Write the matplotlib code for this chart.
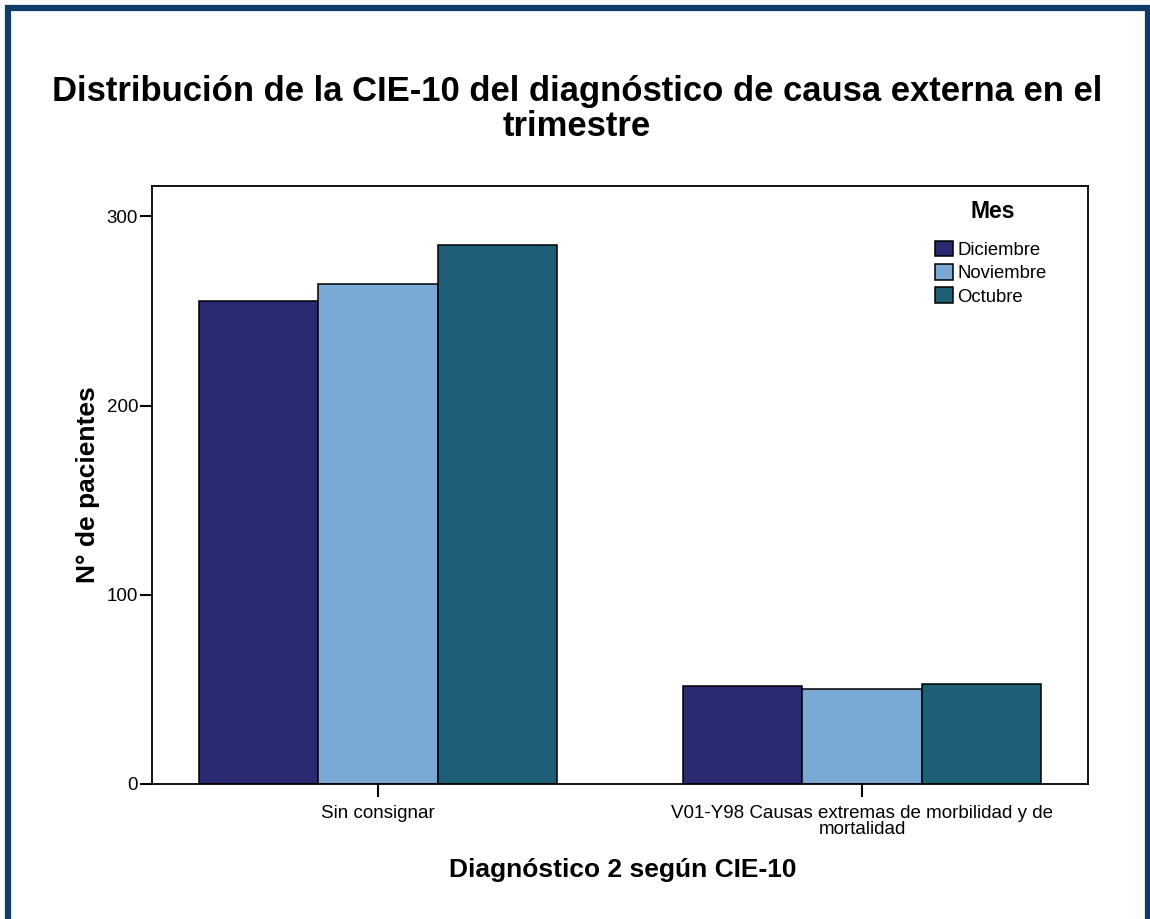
import numpy as np
import matplotlib
matplotlib.use("Agg")
import matplotlib.pyplot as plt
from matplotlib.patches import Rectangle

plt.rcParams['font.family'] = ['Liberation Sans', 'DejaVu Sans']

categorias = ["Sin consignar", "V01-Y98 Causas extremas de morbilidad y de\nmortalidad"]
meses = ["Diciembre", "Noviembre", "Octubre"]
diciembre = [255, 52]
noviembre = [264, 50]
octubre = [285, 53]
colores = ["#2a2a72", "#7ba9d6", "#1d5f77"]

W, H = 1150, 919
fig = plt.figure(figsize=(W/100, H/100), dpi=100)
ax = fig.add_axes([152/W, 1-784/H, (1088-152)/W, (784-186)/H])

x = np.arange(len(categorias))
ancho = 0.247
for k, (vals, lab, col) in enumerate(zip([diciembre, noviembre, octubre], meses, colores)):
    ax.bar(x + (k-1)*ancho, vals, ancho, color=col, edgecolor="black", linewidth=1.1, label=lab)

ax.set_xlim(-0.467, 1.467)
ax.set_ylim(0, 316)
ax.set_yticks([0, 100, 200, 300])
ax.set_xticks(x)
ax.set_xticklabels(categorias, fontsize=13.5, linespacing=0.95)
ax.tick_params(axis="y", labelsize=13.5, length=9, width=1.5, pad=1)
ax.tick_params(axis="x", length=9, width=1.5, pad=6)
for s in ax.spines.values():
    s.set_linewidth(1.3)

# leyenda sin marco, titulo aparte
leg = ax.legend(loc="upper left", bbox_to_anchor=(935/W, 1-240.5/H),
                bbox_transform=fig.transFigure, frameon=False, fontsize=13.3,
                handlelength=0.95, handleheight=0.95, handletextpad=0.25,
                labelspacing=0.28, borderaxespad=0, borderpad=0)
fig.text(993/W, 1-212/H, "Mes", ha="center", va="center", fontsize=16.5, fontweight="bold")

fig.text(577/W, 1-109/H, "Distribución de la CIE-10 del diagnóstico de causa externa en el\ntrimestre",
         ha="center", va="center", fontsize=24.9, fontweight="bold", linespacing=1.1)
fig.text(88/W, 1-485/H, "N° de pacientes", rotation=90, ha="center", va="center",
         fontsize=19, fontweight="bold")
fig.text(623/W, 1-870/H, "Diagnóstico 2 según CIE-10", ha="center", va="center",
         fontsize=19, fontweight="bold")

# marco azul exterior
fig.patches.append(Rectangle((8/W, -0.05), (1147.5-8)/W, 1.05-8/H, transform=fig.transFigure,
                             fill=False, edgecolor="#0f3d6b", linewidth=4.5))

fig.savefig("out.png", dpi=100)
